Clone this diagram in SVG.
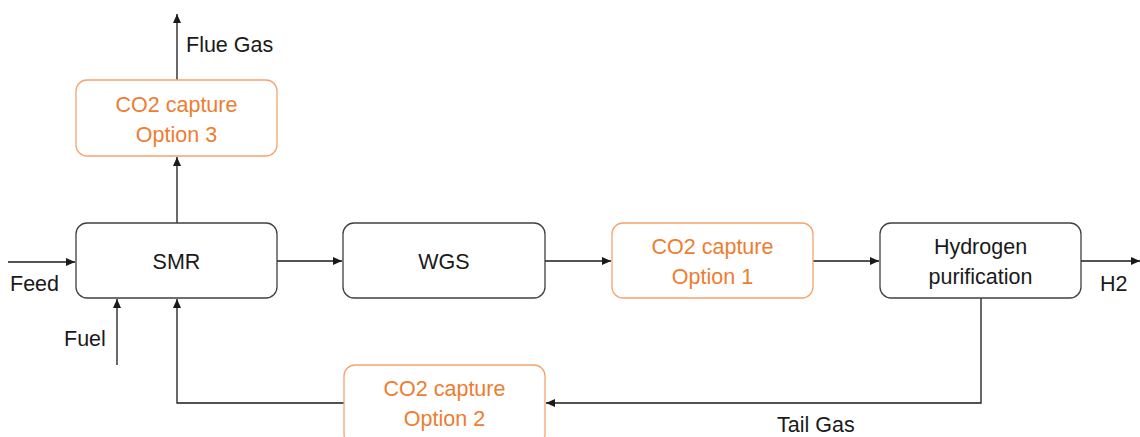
<svg xmlns="http://www.w3.org/2000/svg" width="1140" height="437" viewBox="0 0 1140 437">
<style>
.box{fill:#fff;stroke:#404040;stroke-width:1.3}
.obox{fill:#fff;stroke:#F4A46E;stroke-width:1.3}
text{font-family:"Liberation Sans",Arial,sans-serif;font-size:21.5px;text-anchor:middle}
.t{fill:#1a1a1a}
.o{fill:#ED7D31}
.l{text-anchor:start;fill:#1a1a1a}
.c{fill:none;stroke:#1a1a1a;stroke-width:1.3}
</style>
<defs>
<marker id="ah" markerWidth="10" markerHeight="10" refX="9" refY="5" orient="auto" markerUnits="userSpaceOnUse">
<path d="M0,1 L9,5 L0,9 Z" fill="#1a1a1a"/>
</marker>
</defs>
<rect width="1140" height="437" fill="#fff"/>
<g id="connectors">
<path class="c" d="M177,80 V14" marker-end="url(#ah)"/>
<path class="c" d="M177,223 V157" marker-end="url(#ah)"/>
<path class="c" d="M8,262 H75" marker-end="url(#ah)"/>
<path class="c" d="M117,365 V299" marker-end="url(#ah)"/>
<path class="c" d="M277,261 H342" marker-end="url(#ah)"/>
<path class="c" d="M545,261 H611" marker-end="url(#ah)"/>
<path class="c" d="M813,261 H879" marker-end="url(#ah)"/>
<path class="c" d="M1081,261 H1140" marker-end="url(#ah)"/>
<path class="c" d="M981,298 V403 H546" marker-end="url(#ah)"/>
<path class="c" d="M344,403 H177 V299" marker-end="url(#ah)"/>
</g>
<g id="smr"><rect class="box" x="76" y="223" width="201" height="75" rx="11"/><text class="t" x="176.5" y="269">SMR</text></g>
<g id="wgs"><rect class="box" x="343" y="223" width="202" height="75" rx="11"/><text class="t" x="444" y="269">WGS</text></g>
<g id="opt1"><rect class="obox" x="612" y="223" width="201" height="75" rx="11"/><text class="o" x="712.5" y="254">CO2 capture</text><text class="o" x="712.5" y="284">Option 1</text></g>
<g id="h2p"><rect class="box" x="880" y="223" width="201" height="75" rx="11"/><text class="t" x="980.5" y="254">Hydrogen</text><text class="t" x="980.5" y="284">purification</text></g>
<g id="opt3"><rect class="obox" x="76" y="80" width="201" height="76" rx="11"/><text class="o" x="176.5" y="112">CO2 capture</text><text class="o" x="176.5" y="142">Option 3</text></g>
<g id="opt2"><rect class="obox" x="344" y="365" width="201" height="80" rx="11"/><text class="o" x="444.5" y="396">CO2 capture</text><text class="o" x="444.5" y="426">Option 2</text></g>
<g id="labels">
<text class="l" x="186" y="52">Flue Gas</text>
<text class="l" x="10" y="291">Feed</text>
<text class="l" x="64" y="346">Fuel</text>
<text class="l" x="1100" y="291">H2</text>
<text class="l" x="777" y="432">Tail Gas</text>
</g>
</svg>
